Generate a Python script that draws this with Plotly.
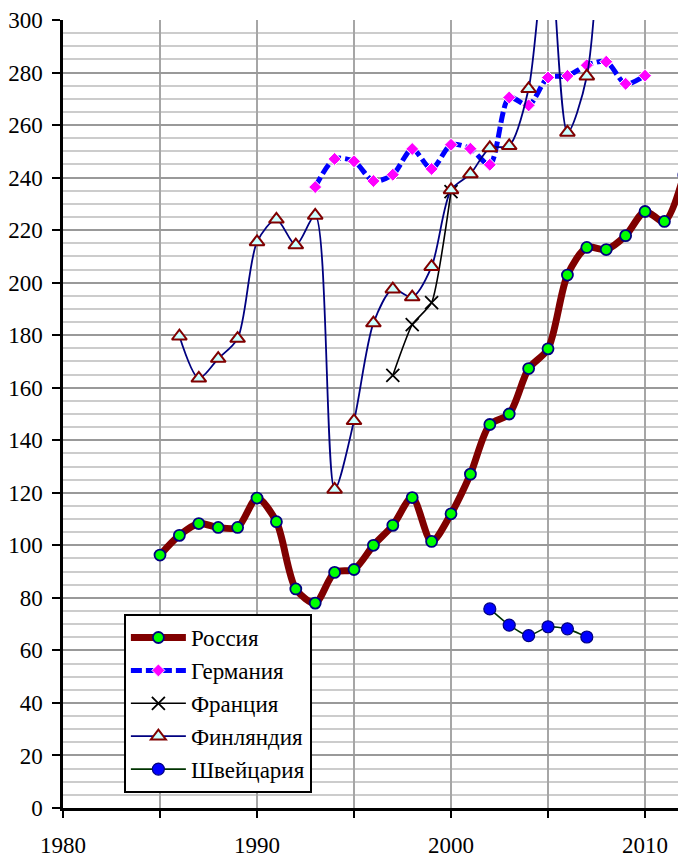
import plotly.graph_objects as go

# Index series by year
russia_years = list(range(1985, 2013))
russia_vals = [96.3, 103.8, 108.3, 106.8, 106.8, 118.0, 109.0, 83.4, 78.0, 89.7,
               90.8, 100.0, 107.6, 118.2, 101.5, 112.0, 127.1, 146.0, 150.0, 167.3,
               174.8, 202.9, 213.4, 212.6, 217.9, 227.1, 223.3, 241.0]

germany_years = list(range(1993, 2011))
germany_vals = [236.4, 247.1, 246.2, 238.7, 241.1, 250.9, 243.3, 252.5, 251.0,
                244.9, 270.5, 267.5, 278.1, 278.7, 282.8, 284.1, 275.7, 278.8]

france_years = [1997, 1998, 1999, 2000]
france_vals = [164.7, 184.0, 192.4, 234.7]

finland_years = list(range(1986, 2009))
finland_vals = [179.6, 163.6, 171.1, 178.7, 215.5, 224.1, 214.3, 225.6, 121.3,
                147.4, 184.6, 197.5, 194.5, 206.1, 235.3, 241.4, 251.3, 252.1,
                273.8, 335.0, 257.2, 278.6, 390.0]

swiss_years = [2002, 2003, 2004, 2005, 2006, 2007]
swiss_vals = [75.8, 69.6, 65.6, 69.0, 68.2, 65.1]

FONT = "Liberation Serif"
TXT = dict(family=FONT, size=23, color="black")

fig = go.Figure()

fig.add_trace(go.Scatter(
    x=russia_years, y=russia_vals, name="Россия", mode="lines+markers",
    line=dict(color="#800000", width=7, shape="spline", smoothing=0.8),
    marker=dict(symbol="circle", size=11, color="#00ff00",
                line=dict(color="#000080", width=1.8)),
))
fig.add_trace(go.Scatter(
    x=germany_years, y=germany_vals, name="Германия", mode="lines+markers",
    line=dict(color="#0000ff", width=5, dash="11px,4px", shape="spline", smoothing=0.8),
    marker=dict(symbol="diamond", size=10, color="#ff00ff",
                line=dict(color="#ffffff", width=1)),
))
fig.add_trace(go.Scatter(
    x=france_years, y=france_vals, name="Франция", mode="lines+markers",
    line=dict(color="#000000", width=1.6, shape="spline", smoothing=0.5),
    marker=dict(symbol="x-thin", size=13, color="#000000",
                line=dict(color="#000000", width=1.8)),
))
fig.add_trace(go.Scatter(
    x=finland_years, y=finland_vals, name="Финляндия", mode="lines+markers",
    line=dict(color="#000080", width=1.8, shape="spline", smoothing=0.8),
    marker=dict(symbol="triangle-up", size=13, color="#ccffff",
                line=dict(color="#800000", width=2)),
))
fig.add_trace(go.Scatter(
    x=swiss_years, y=swiss_vals, name="Швейцария", mode="lines+markers",
    line=dict(color="#003300", width=1.6, shape="spline", smoothing=0.5),
    marker=dict(symbol="circle", size=12, color="#0000ff",
                line=dict(color="#000080", width=1.2)),
))

x_ticks = list(range(1980, 2015, 5))
x_text = [str(v) if v % 10 == 0 else "" for v in x_ticks]

fig.update_layout(
    width=678, height=858,
    margin=dict(l=63, r=0, t=20, b=45),
    paper_bgcolor="white", plot_bgcolor="white",
    font=TXT,
    showlegend=True,
    legend=dict(
        x=0.099, y=0.019, xanchor="left", yanchor="bottom",
        bgcolor="white", bordercolor="black", borderwidth=2,
        font=TXT, itemwidth=55, tracegroupgap=0,
    ),
    xaxis=dict(
        range=[1980, 2011.7], tickmode="array", tickvals=x_ticks, ticktext=x_text,
        showgrid=True, gridcolor="#a6a6a6", gridwidth=2,
        showline=True, linecolor="black", linewidth=2.5,
        ticks="outside", ticklen=7, tickwidth=2, tickcolor="black",
        zeroline=False, ticklabelstandoff=8, tickfont=TXT,
    ),
    yaxis=dict(
        range=[0, 300], dtick=20, tick0=0,
        showgrid=True, gridcolor="#999999", gridwidth=2,
        minor=dict(dtick=5, showgrid=True, gridcolor="#cccccc", gridwidth=2),
        showline=True, linecolor="black", linewidth=2.5,
        ticks="outside", ticklen=8, tickwidth=2, tickcolor="black",
        zeroline=False, tickfont=TXT, ticklabelstandoff=5,
    ),
)

fig.write_html("out.html")
